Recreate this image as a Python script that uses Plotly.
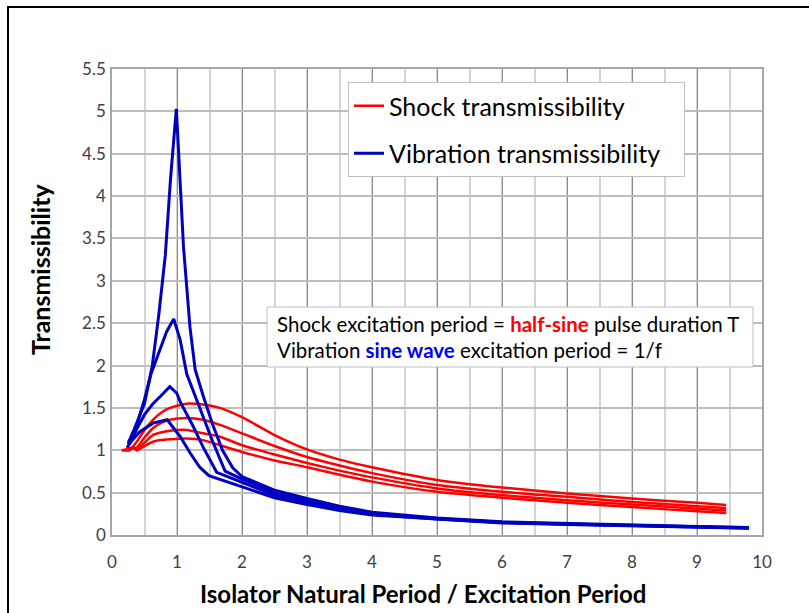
import plotly.graph_objects as go

# ---------------- data ----------------
# Shock transmissibility (red), four damping levels
shock_x1 = [0.15, 0.27, 0.38, 0.5, 0.63, 0.75, 0.89, 1.15, 1.4, 1.66, 2.0, 2.5, 3.0, 3.5, 4.0, 5.0, 6.0, 7.0, 8.0, 9.0, 9.45]
shock_y1 = [1.0, 1.0, 1.1, 1.24, 1.36, 1.44, 1.5, 1.55, 1.54, 1.5, 1.39, 1.18, 1.01, 0.89, 0.80, 0.65, 0.56, 0.49, 0.43, 0.38, 0.355]
shock_x2 = [0.15, 0.3, 0.38, 0.5, 0.63, 0.75, 0.89, 1.15, 1.4, 1.66, 2.0, 2.5, 3.0, 3.5, 4.0, 5.0, 6.0, 7.0, 8.0, 9.0, 9.45]
shock_y2 = [1.0, 1.02, 1.03, 1.15, 1.26, 1.32, 1.36, 1.38, 1.36, 1.3, 1.2, 1.05, 0.92, 0.82, 0.73, 0.59, 0.51, 0.45, 0.39, 0.34, 0.32]
shock_x3 = [0.2, 0.33, 0.38, 0.5, 0.63, 0.75, 0.89, 1.15, 1.4, 1.66, 2.0, 2.5, 3.0, 3.5, 4.0, 5.0, 6.0, 7.0, 8.0, 9.0, 9.45]
shock_y3 = [1.0, 1.04, 1.0, 1.09, 1.18, 1.21, 1.23, 1.24, 1.2, 1.16, 1.06, 0.95, 0.85, 0.76, 0.68, 0.55, 0.47, 0.41, 0.36, 0.31, 0.29]
shock_x4 = [0.25, 0.33, 0.38, 0.5, 0.63, 0.75, 0.89, 1.15, 1.4, 1.66, 2.0, 2.5, 3.0, 3.5, 4.0, 5.0, 6.0, 7.0, 8.0, 9.0, 9.45]
shock_y4 = [1.0, 1.03, 1.0, 1.05, 1.1, 1.12, 1.13, 1.14, 1.12, 1.06, 0.98, 0.88, 0.80, 0.71, 0.63, 0.51, 0.44, 0.38, 0.33, 0.28, 0.26]

# Vibration transmissibility (blue), four damping levels
vib_x1 = [0.25, 0.4, 0.5, 0.62, 0.72, 0.82, 0.9, 0.99, 1.05, 1.1, 1.2, 1.28, 1.4, 1.55, 1.7, 1.86, 2.0, 2.5, 3.0, 3.5, 4.0, 5.0, 6.0, 7.0, 8.0, 9.0, 9.8]
vib_y1 = [1.07, 1.35, 1.55, 2.0, 2.6, 3.3, 4.2, 5.03, 4.2, 3.4, 2.45, 1.95, 1.65, 1.3, 1.0, 0.79, 0.69, 0.53, 0.43, 0.34, 0.27, 0.2, 0.155, 0.135, 0.115, 0.1, 0.088]
vib_x2 = [0.25, 0.38, 0.5, 0.6, 0.72, 0.84, 0.95, 1.05, 1.15, 1.35, 1.55, 1.74, 2.0, 2.5, 3.0, 3.5, 4.0, 5.0, 6.0, 7.0, 8.0, 9.0, 9.8]
vib_y2 = [1.09, 1.3, 1.6, 1.9, 2.15, 2.4, 2.55, 2.3, 1.9, 1.5, 1.1, 0.755, 0.66, 0.5, 0.4, 0.32, 0.26, 0.195, 0.15, 0.13, 0.112, 0.097, 0.086]
vib_x3 = [0.27, 0.4, 0.5, 0.63, 0.75, 0.89, 1.0, 1.05, 1.25, 1.4, 1.61, 2.0, 2.5, 3.0, 3.5, 4.0, 5.0, 6.0, 7.0, 8.0, 9.0, 9.8]
vib_y3 = [1.07, 1.28, 1.42, 1.55, 1.64, 1.75, 1.67, 1.57, 1.28, 1.04, 0.74, 0.62, 0.47, 0.38, 0.3, 0.245, 0.19, 0.147, 0.127, 0.11, 0.094, 0.083]
vib_x4 = [0.23, 0.29, 0.43, 0.63, 0.85, 1.05, 1.2, 1.35, 1.49, 2.0, 2.5, 3.0, 3.5, 4.0, 5.0, 6.0, 7.0, 8.0, 9.0, 9.8]
vib_y4 = [1.03, 1.1, 1.22, 1.32, 1.36, 1.16, 0.97, 0.8, 0.7, 0.57, 0.44, 0.36, 0.29, 0.235, 0.185, 0.143, 0.123, 0.107, 0.092, 0.08]

x_tick_vals = [0, 1, 2, 3, 4, 5, 6, 7, 8, 9, 10]
y_tick_vals = [0, 0.5, 1, 1.5, 2, 2.5, 3, 3.5, 4, 4.5, 5, 5.5]
y_tick_text = ["0", "0.5", "1", "1.5", "2", "2.5", "3", "3.5", "4", "4.5", "5", "5.5"]

legend_names = ["Shock transmissibility", "Vibration transmissibility\u00a0\u00a0\u00a0"]
x_title = "<b>Isolator Natural Period / Excitation Period</b>"
y_title = "<b>Transmissibility</b>"
note_line1 = ("Shock excitation period = <b><span style='color:#FF0000'>half-sine</span></b>"
              " pulse duration T")
note_line2 = ("Vibration <b><span style='color:#0000FF'>sine wave</span></b>"
              " excitation period = 1/f")

RED = "#FF0000"
BLUE = "#0000C0"
FONT = "Lato"

fig = go.Figure()

shock_sets = [(shock_x1, shock_y1), (shock_x2, shock_y2), (shock_x3, shock_y3), (shock_x4, shock_y4)]
vib_sets = [(vib_x1, vib_y1), (vib_x2, vib_y2), (vib_x3, vib_y3), (vib_x4, vib_y4)]

for i, (xs, ys) in enumerate(shock_sets):
    fig.add_trace(go.Scatter(
        x=xs, y=ys, mode="lines",
        line=dict(color=RED, width=2.5, shape="spline", smoothing=0.6),
        name=legend_names[0], legendgroup="shock", showlegend=(i == 0),
    ))
for i, (xs, ys) in enumerate(vib_sets):
    fig.add_trace(go.Scatter(
        x=xs, y=ys, mode="lines",
        line=dict(color=BLUE, width=3),
        name=legend_names[1], legendgroup="vib", showlegend=(i == 0),
    ))

L, R, T, B = 112, 47, 69, 78
W, H = 809, 613
pw, ph = W - L - R, H - T - B


def px(xp):
    return (xp - L) / pw


def py(yp):
    return (H - B - yp) / ph


fig.update_layout(
    width=W, height=H,
    margin=dict(l=L, r=R, t=T, b=B, pad=0),
    paper_bgcolor="white", plot_bgcolor="white",
    font=dict(family=FONT, color="#404040", size=17),
    showlegend=True,
    legend=dict(
        x=px(348), y=py(82), xanchor="left", yanchor="top",
        bgcolor="white", bordercolor="#BFBFBF", borderwidth=1,
        font=dict(family=FONT, size=25, color="black"),
        tracegroupgap=12, traceorder="grouped",
    ),
    xaxis=dict(
        range=[0, 10], tickvals=x_tick_vals, ticks="",
        showgrid=True, gridcolor="#8C8C8C", gridwidth=1,
        minor=dict(dtick=0.5, showgrid=True, gridcolor="#D4D4D4", gridwidth=1.5),
        showline=True, linecolor="#A6A6A6", linewidth=1.5, mirror=True,
        zeroline=False, ticklabelstandoff=11,
        tickfont=dict(family=FONT, size=17, color="#404040"),
    ),
    yaxis=dict(
        range=[0, 5.5], tickvals=y_tick_vals, ticktext=y_tick_text, ticks="",
        showgrid=True, gridcolor="#BDBDBD", gridwidth=1.5,
        showline=True, linecolor="#A6A6A6", linewidth=1.5, mirror=True,
        zeroline=False, ticklabelstandoff=1,
        tickfont=dict(family=FONT, size=17, color="#404040"),
    ),
    shapes=[
        dict(type="rect", xref="paper", yref="paper",
             x0=px(267), x1=px(753), y0=py(367), y1=py(307),
             line=dict(color="#BFBFBF", width=1), fillcolor="white", layer="above"),
        dict(type="rect", xref="paper", yref="paper",
             x0=px(8), x1=px(840), y0=py(640), y1=py(7),
             line=dict(color="black", width=2), fillcolor="rgba(0,0,0,0)", layer="above"),
    ],
    annotations=[
        dict(text=note_line1, xref="paper", yref="paper", x=px(275), y=py(324),
             xanchor="left", yanchor="middle", showarrow=False,
             font=dict(family=FONT, size=20.5, color="black")),
        dict(text=note_line2, xref="paper", yref="paper", x=px(275), y=py(350),
             xanchor="left", yanchor="middle", showarrow=False,
             font=dict(family=FONT, size=20.5, color="black")),
        dict(text=x_title, xref="paper", yref="paper", x=px(423), y=py(593),
             xanchor="center", yanchor="middle", showarrow=False,
             font=dict(family=FONT, size=24, color="black")),
        dict(text=y_title, xref="paper", yref="paper", x=px(40), y=py(270),
             xanchor="center", yanchor="middle", showarrow=False, textangle=-90,
             font=dict(family=FONT, size=25, color="black")),
    ],
)

fig.write_html("out.html")
